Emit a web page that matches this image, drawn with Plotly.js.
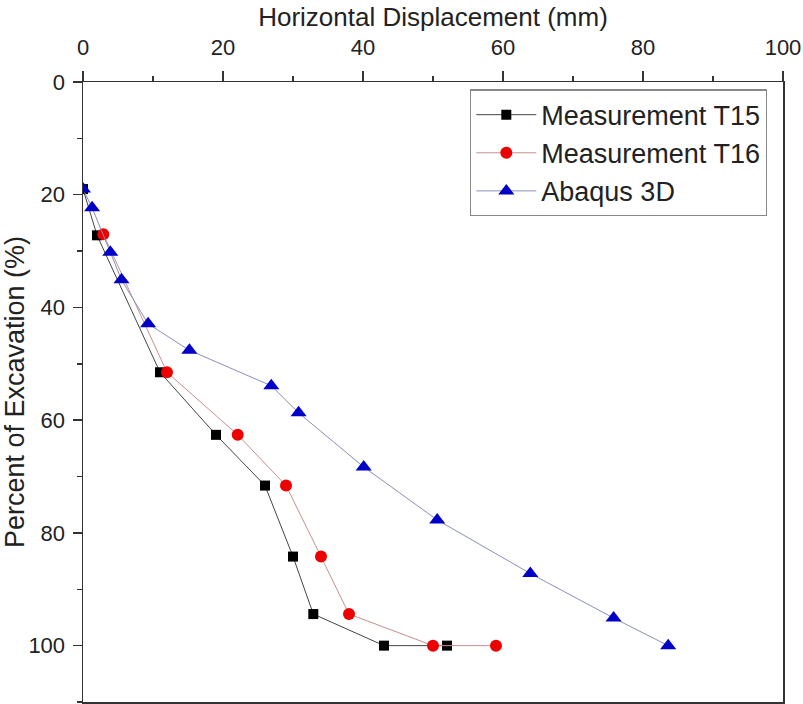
<!DOCTYPE html>
<html>
<head>
<meta charset="utf-8">
<script src="https://cdn.plot.ly/plotly-3.0.1.min.js"></script>
<style>html,body{margin:0;padding:0;background:#fff;}#chart{width:803px;height:704px;}</style>
</head>
<body>
<div id="chart"></div>
<script>
// Measurement T15
const t15X = [0, 2.0, 11.0, 19.0, 26.0, 30.0, 32.9, 43.0, 52.0];
const t15Y = [19, 27.2, 51.5, 62.6, 71.6, 84.2, 94.4, 100, 100];
// Measurement T16
const t16X = [2.9, 12.0, 22.1, 29.0, 34.0, 38.0, 50.0, 59.0];
const t16Y = [27.0, 51.5, 62.6, 71.6, 84.2, 94.4, 100, 100];
// Abaqus 3D
const abqX = [0, 1.3, 3.9, 5.5, 9.3, 15.2, 26.9, 30.8, 40.1, 50.6, 63.9, 75.8, 83.6];
const abqY = [19, 22.3, 30.2, 35.1, 42.9, 47.6, 53.9, 58.7, 68.3, 77.7, 87.2, 95.1, 100];

const seriesNames = ["Measurement T15", "Measurement T16", "Abaqus 3D"];
const xTitle = "Horizontal Displacement (mm)";
const yTitle = "Percent of Excavation (%)";

const FONT = "Liberation Sans, Arial, sans-serif";

const traces = [
  {x: t15X, y: t15Y, name: seriesNames[0], mode: "lines+markers", type: "scatter",
   line: {color: "#444444", width: 1},
   marker: {symbol: "square", size: 10, color: "#000000"}},
  {x: t16X, y: t16Y, name: seriesNames[1], mode: "lines+markers", type: "scatter",
   line: {color: "#c79090", width: 1},
   marker: {symbol: "circle", size: 12, color: "#ee0000"}},
  {x: abqX, y: abqY, name: seriesNames[2], mode: "lines+markers", type: "scatter",
   line: {color: "#8a90b8", width: 1},
   marker: {symbol: "triangle-up", size: 14, color: "#0000c8"}}
];

const axisCommon = {
  showgrid: false, zeroline: false, mirror: true,
  showline: true, linecolor: "#333", linewidth: 1.5,
  ticks: "outside", tickcolor: "#333", tickwidth: 1.5,
  tickfont: {family: FONT, size: 22, color: "#222"},
  automargin: false
};

const layout = {
  width: 803, height: 704,
  margin: {l: 83, r: 20, t: 82, b: 2},
  paper_bgcolor: "#fff", plot_bgcolor: "#fff",
  font: {family: FONT, color: "#222"},
  showlegend: true,
  xaxis: Object.assign({}, axisCommon, {
    side: "top", range: [0, 100], tick0: 0, dtick: 20, ticklen: 10,
    ticklabelstandoff: 7,
    minor: {dtick: 10, ticks: "outside", ticklen: 5, tickcolor: "#333", tickwidth: 1.5, showgrid: false},
    title: {text: xTitle, font: {family: FONT, size: 26, color: "#222"}, standoff: 0}
  }),
  yaxis: Object.assign({}, axisCommon, {
    range: [110, 0], tick0: 0, dtick: 20, ticklen: 9,
    ticklabelstandoff: 3,
    minor: {dtick: 10, ticks: "outside", ticklen: 5, tickcolor: "#333", tickwidth: 1.5, showgrid: false},
    title: {text: yTitle, font: {family: FONT, size: 27, color: "#222"}, standoff: 0}
  }),
  legend: {
    x: 0.553, y: 0.988, xanchor: "left", yanchor: "top",
    bgcolor: "#fff", bordercolor: "#888", borderwidth: 1.2,
    font: {family: FONT, size: 27, color: "#222"},
    itemwidth: 60
  }
};

Plotly.newPlot("chart", traces, layout, {displayModeBar: false, staticPlot: true});
</script>
</body>
</html>
